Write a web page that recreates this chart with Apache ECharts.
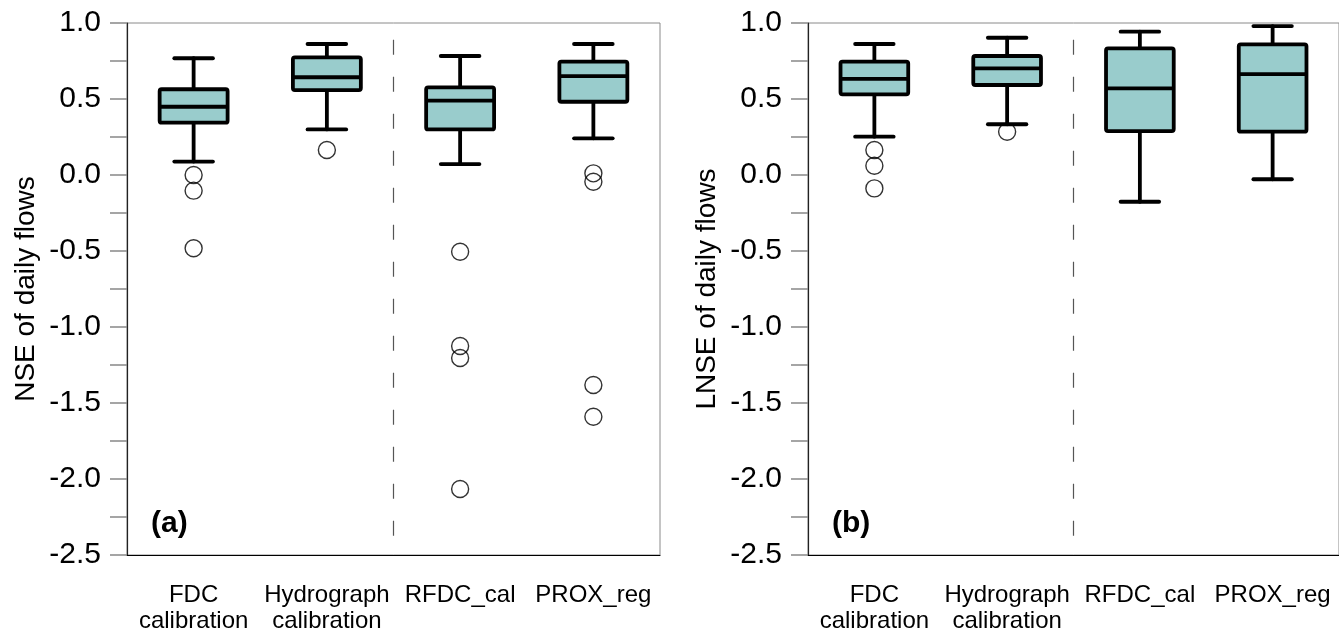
<!DOCTYPE html>
<html>
<head>
<meta charset="utf-8">
<script src="https://cdn.jsdelivr.net/npm/echarts@6/dist/echarts.min.js"></script>
<style>html,body{margin:0;padding:0;background:#fff}#c{width:1339px;height:638px}</style>
</head>
<body>
<div id="c"></div>
<script>
// ---- data ----
var categories = ['FDC\ncalibration', 'Hydrograph\ncalibration', 'RFDC_cal', 'PROX_reg'];
var yTicks = [-2.5, -2.0, -1.5, -1.0, -0.5, 0.0, 0.5, 1.0];
// [low whisker, Q1, median, Q3, high whisker]
var nseBoxes = [
  [0.088, 0.344, 0.449, 0.564, 0.768],
  [0.300, 0.559, 0.643, 0.774, 0.862],
  [0.072, 0.300, 0.489, 0.577, 0.783],
  [0.241, 0.482, 0.651, 0.746, 0.862]
];
var nseOutliers = [
  [0, 0.000], [0, -0.103], [0, -0.482],
  [1, 0.164],
  [2, -0.505], [2, -1.125], [2, -1.204], [2, -2.066],
  [3, 0.011], [3, -0.044], [3, -1.382], [3, -1.590]
];
var lnseBoxes = [
  [0.252, 0.531, 0.632, 0.746, 0.862],
  [0.334, 0.592, 0.702, 0.783, 0.903],
  [-0.176, 0.289, 0.570, 0.833, 0.943],
  [-0.028, 0.285, 0.664, 0.860, 0.980]
];
var lnseOutliers = [
  [0, 0.164], [0, 0.061], [0, -0.088],
  [1, 0.285]
];
var panelLabels = ['(a)', '(b)'];
var yNames = ['NSE of daily flows', 'LNSE of daily flows'];

// ---- chart ----
var FILL = '#99CCCC';
var LW = 3.8;
function boxData(arr) {
  return arr.map(function (b, i) { return [i].concat(b); });
}
function renderBox(params, api) {
  var idx = api.value(0);
  var band = api.size([1, 0])[0];
  var cx = api.coord([idx, 0])[0];
  var yl = api.coord([idx, api.value(1)])[1];
  var yq1 = api.coord([idx, api.value(2)])[1];
  var ym = api.coord([idx, api.value(3)])[1];
  var yq3 = api.coord([idx, api.value(4)])[1];
  var yh = api.coord([idx, api.value(5)])[1];
  var hw = band * 0.255, cw = band * 0.145;
  var ls = {stroke: '#000', lineWidth: LW, lineCap: 'round'};
  return {
    type: 'group',
    children: [
      {type: 'line', shape: {x1: cx, y1: yq3, x2: cx, y2: yh}, style: ls},
      {type: 'line', shape: {x1: cx - cw, y1: yh, x2: cx + cw, y2: yh}, style: ls},
      {type: 'line', shape: {x1: cx, y1: yq1, x2: cx, y2: yl}, style: ls},
      {type: 'line', shape: {x1: cx - cw, y1: yl, x2: cx + cw, y2: yl}, style: ls},
      {type: 'rect', shape: {x: cx - hw, y: yq3, width: 2 * hw, height: yq1 - yq3, r: 2},
        style: {fill: FILL, stroke: '#000', lineWidth: LW, lineJoin: 'round'}},
      {type: 'line', shape: {x1: cx - hw, y1: ym, x2: cx + hw, y2: ym}, style: {stroke: '#000', lineWidth: LW}}
    ]
  };
}
function renderDivider(params, api) {
  var p1 = api.coord([1, 0.89]);
  var p2 = api.coord([2, -2.5]);
  var x = (p1[0] + p2[0]) / 2;
  return {type: 'line', shape: {x1: x, y1: p1[1], x2: x, y2: p2[1]},
    style: {stroke: '#555', lineWidth: 1.2, lineDash: [15, 22]}};
}

var grids = [
  {left: 127, top: 23, width: 533, height: 532},
  {left: 808, top: 23, width: 534, height: 532}
];
var option = {
  animation: false,
  backgroundColor: '#fff',
  title: [0, 1].map(function (i) {
    return {text: panelLabels[i], left: grids[i].left + 19, top: 504,
      textStyle: {fontFamily: 'Liberation Sans, Arial', fontWeight: 'bold', fontSize: 30, color: '#000'}};
  }),
  grid: grids.map(function (g) {
    return Object.assign({show: true, borderColor: '#8a8a8a', borderWidth: 1, backgroundColor: 'transparent'}, g);
  }),
  xAxis: [0, 1].map(function (i) {
    return {
      type: 'category', gridIndex: i, data: categories, boundaryGap: true,
      axisLine: {onZero: false, lineStyle: {color: '#000', width: 1.2}},
      axisTick: {alignWithLabel: true, length: 17, lineStyle: {color: '#555', width: 1}},
      axisLabel: {margin: 27, color: '#000', fontSize: 24, lineHeight: 26, interval: 0,
        fontFamily: 'Liberation Sans, Arial'},
      splitLine: {show: false}
    };
  }),
  yAxis: [0, 1].map(function (i) {
    return {
      type: 'value', gridIndex: i, min: -2.5, max: 1.0, interval: 0.25,
      name: yNames[i], nameLocation: 'middle', nameGap: 87, nameRotate: 90,
      nameTextStyle: {fontSize: 28, color: '#000', fontFamily: 'Liberation Sans, Arial'},
      axisLine: {show: true, onZero: false, lineStyle: {color: '#222', width: 1.2}},
      axisTick: {show: true, length: 17, lineStyle: {color: '#888', width: 1.5}},
      axisLabel: {margin: 26, color: '#000', fontSize: 30, fontFamily: 'Liberation Sans, Arial',
        formatter: function (v) {
          for (var k = 0; k < yTicks.length; k++) {
            if (Math.abs(yTicks[k] - v) < 1e-6) return yTicks[k].toFixed(1);
          }
          return '';
        }},
      splitLine: {show: false}
    };
  }),
  series: [
    {type: 'custom', xAxisIndex: 0, yAxisIndex: 0, renderItem: renderDivider, data: [[0]], z: 1, silent: true},
    {type: 'custom', xAxisIndex: 1, yAxisIndex: 1, renderItem: renderDivider, data: [[0]], z: 1, silent: true},
    {type: 'custom', xAxisIndex: 0, yAxisIndex: 0, renderItem: renderBox, data: boxData(nseBoxes), z: 3, encode: {x: 0, y: [1, 2, 3, 4, 5]}},
    {type: 'custom', xAxisIndex: 1, yAxisIndex: 1, renderItem: renderBox, data: boxData(lnseBoxes), z: 3, encode: {x: 0, y: [1, 2, 3, 4, 5]}},
    {type: 'scatter', xAxisIndex: 0, yAxisIndex: 0, data: nseOutliers, symbol: 'circle', symbolSize: 17, z: 2,
      itemStyle: {color: 'rgba(255,255,255,0)', borderColor: '#000', borderWidth: 1.4}},
    {type: 'scatter', xAxisIndex: 1, yAxisIndex: 1, data: lnseOutliers, symbol: 'circle', symbolSize: 17, z: 2,
      itemStyle: {color: 'rgba(255,255,255,0)', borderColor: '#000', borderWidth: 1.4}}
  ]
};
var chart = echarts.init(document.getElementById('c'), null, {renderer: 'canvas'});
chart.setOption(option);
</script>
</body>
</html>
